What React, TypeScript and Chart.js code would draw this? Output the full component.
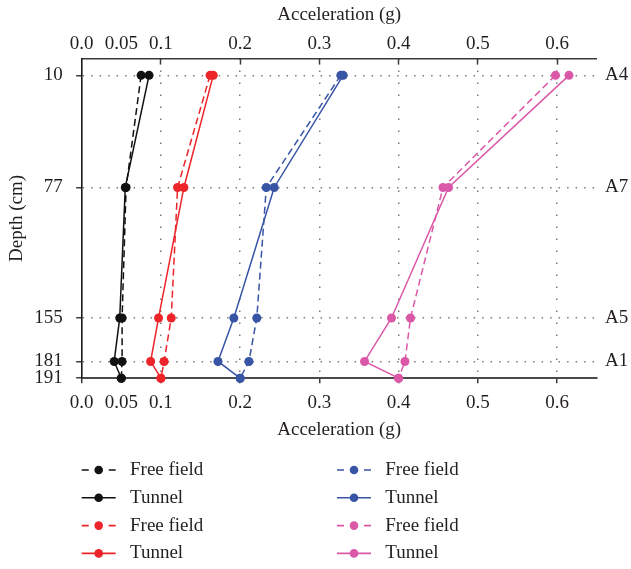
import React, { useEffect, useRef } from 'react';
import { Chart, registerables } from 'chart.js';

Chart.register(...registerables);

// ---- data ----
const DEPTHS = [10, 77, 155, 181, 191];
const DEPTH_TICKS = [10, 77, 155, 181, 191];
const SENSOR_DEPTHS = [10, 77, 155, 181];
const SENSOR_LABELS = ['A4', 'A7', 'A5', 'A1'];
const ACC_TICKS = [0, 0.05, 0.1, 0.2, 0.3, 0.4, 0.5, 0.6];
const ACC_TICK_LABELS = ['0.0', '0.05', '0.1', '0.2', '0.3', '0.4', '0.5', '0.6'];

const BLACK_FREE = [0.075, 0.056, 0.051, 0.051, 0.05];
const BLACK_TUNNEL = [0.085, 0.055, 0.048, 0.041, 0.05];
const RED_FREE = [0.162, 0.121, 0.113, 0.104, 0.1];
const RED_TUNNEL = [0.166, 0.129, 0.097, 0.087, 0.1];
const BLUE_FREE = [0.327, 0.233, 0.221, 0.211, 0.2];
const BLUE_TUNNEL = [0.33, 0.243, 0.192, 0.172, 0.2];
const PINK_FREE = [0.598, 0.456, 0.415, 0.408, 0.4];
const PINK_TUNNEL = [0.615, 0.463, 0.391, 0.357, 0.4];

const BLACK = '#111111';
const RED = 'rgb(237,36,42)';
const BLUE = 'rgb(55,84,165)';
const PINK = 'rgb(219,88,168)';

const SERIES = [
  { label: 'Free field', values: BLACK_FREE, color: BLACK, dashed: true },
  { label: 'Tunnel', values: BLACK_TUNNEL, color: BLACK, dashed: false },
  { label: 'Free field', values: RED_FREE, color: RED, dashed: true },
  { label: 'Tunnel', values: RED_TUNNEL, color: RED, dashed: false },
  { label: 'Free field', values: BLUE_FREE, color: BLUE, dashed: true },
  { label: 'Tunnel', values: BLUE_TUNNEL, color: BLUE, dashed: false },
  { label: 'Free field', values: PINK_FREE, color: PINK, dashed: true },
  { label: 'Tunnel', values: PINK_TUNNEL, color: PINK, dashed: false },
];

const FONT_FAMILY = '"Liberation Serif", "Times New Roman", serif';
const FONT_SIZE = 19;
const TEXT_COLOR = '#231f20';
const AXIS_COLOR = '#3a3a3a';
const GRID_COLOR = '#7a7a7a';
const DASH = [7, 4];

const legendPlugin = {
  id: 'customLegend',
  afterDraw(chart: any) {
    const ctx = chart.ctx;
    const colX = [81.7, 337];
    const rowY0 = 470;
    const rowGap = 27.8;
    const lineLen = 34;
    ctx.save();
    chart.data.datasets.forEach((ds: any, i: number) => {
      const col = Math.floor(i / 4);
      const row = i % 4;
      const x0 = colX[col];
      const y = rowY0 + row * rowGap;
      ctx.strokeStyle = ds.borderColor;
      ctx.lineWidth = 1.6;
      ctx.setLineDash(ds.borderDash && ds.borderDash.length ? [7, 20] : []);
      ctx.beginPath();
      ctx.moveTo(x0, y);
      ctx.lineTo(x0 + lineLen, y);
      ctx.stroke();
      ctx.setLineDash([]);
      ctx.fillStyle = ds.borderColor;
      ctx.beginPath();
      ctx.arc(x0 + lineLen / 2, y, 4.3, 0, Math.PI * 2);
      ctx.fill();
      ctx.fillStyle = TEXT_COLOR;
      ctx.font = `${FONT_SIZE}px ${FONT_FAMILY}`;
      ctx.textBaseline = 'middle';
      ctx.textAlign = 'left';
      ctx.fillText(ds.label, x0 + 48.3, y);
    });
    ctx.restore();
  },
};

const font = { family: FONT_FAMILY, size: FONT_SIZE };

const accLabel = (v: any) => {
  const i = ACC_TICKS.indexOf(Number(v));
  return i >= 0 ? ACC_TICK_LABELS[i] : '';
};

export default function App() {
  const canvasRef = useRef<HTMLCanvasElement | null>(null);

  useEffect(() => {
    if (!canvasRef.current) return;
    const datasets = SERIES.map((s) => ({
      label: s.label,
      data: DEPTHS.map((d, i) => ({ x: s.values[i], y: d })),
      borderColor: s.color,
      backgroundColor: s.color,
      pointBackgroundColor: s.color,
      pointBorderColor: s.color,
      pointBorderWidth: 0,
      pointRadius: 4.5,
      borderWidth: 1.5,
      borderDash: s.dashed ? DASH : [],
      showLine: true,
      tension: 0,
      clip: false,
      xAxisID: 'x',
      yAxisID: 'y',
    }));

    const chart = new Chart(canvasRef.current, {
      type: 'scatter',
      data: { datasets },
      plugins: [legendPlugin],
      options: {
        animation: false,
        responsive: true,
        maintainAspectRatio: false,
        layout: { padding: { left: 0, right: 0, top: 0, bottom: 127.8 } },
        plugins: { legend: { display: false }, tooltip: { enabled: false } },
        scales: {
          x: {
            type: 'linear',
            position: 'bottom',
            min: 0,
            max: 0.65,
            afterBuildTicks: (s: any) => {
              s.ticks = ACC_TICKS.map((v) => ({ value: v }));
            },
            afterFit: (s: any) => {
              s.height = 63;
            },
            ticks: {
              callback: accLabel,
              font,
              color: TEXT_COLOR,
              padding: 8.6,
              maxRotation: 0,
              autoSkip: false,
            },
            grid: {
              color: (c: any) => {
                const v = c.tick ? c.tick.value : null;
                return v === 0 || v === 0.05 ? 'rgba(0,0,0,0)' : GRID_COLOR;
              },
              lineWidth: 1.5,
              drawTicks: true,
              tickLength: 5,
              tickColor: (c: any) => {
                const v = c.tick ? c.tick.value : null;
                return v === 0.05 ? 'rgba(0,0,0,0)' : AXIS_COLOR;
              },
              tickWidth: 1.5,
              tickBorderDash: [],
            },
            border: { display: true, color: '#4a4a4a', width: 2, dash: [1.5, 10.5] },
            title: {
              display: true,
              text: 'Acceleration (g)',
              font,
              color: TEXT_COLOR,
              padding: { top: 0, bottom: 0 },
            },
          },
          x2: {
            type: 'linear',
            position: 'top',
            min: 0,
            max: 0.65,
            afterBuildTicks: (s: any) => {
              s.ticks = ACC_TICKS.map((v) => ({ value: v }));
            },
            afterFit: (s: any) => {
              s.height = 58.6;
            },
            ticks: {
              callback: accLabel,
              font,
              color: TEXT_COLOR,
              padding: 8.9,
              maxRotation: 0,
              autoSkip: false,
            },
            grid: {
              drawOnChartArea: false,
              drawTicks: true,
              tickLength: -6,
              tickColor: (c: any) => {
                const v = c.tick ? c.tick.value : null;
                return v === 0 || v === 0.05 ? 'rgba(0,0,0,0)' : AXIS_COLOR;
              },
              tickWidth: 1.5,
              tickBorderDash: [],
            },
            border: { display: true, color: AXIS_COLOR, width: 1.6 },
            title: {
              display: true,
              text: 'Acceleration (g)',
              font,
              color: TEXT_COLOR,
              padding: { top: 3.6, bottom: 0 },
            },
          },
          y: {
            type: 'linear',
            position: 'left',
            min: 0,
            max: 191,
            reverse: true,
            afterBuildTicks: (s: any) => {
              s.ticks = DEPTH_TICKS.map((v) => ({ value: v }));
            },
            afterFit: (s: any) => {
              s.width = 81.7;
            },
            ticks: {
              font,
              color: TEXT_COLOR,
              padding: 13.5,
              autoSkip: false,
              callback: (v: any) => String(v),
            },
            grid: {
              color: (c: any) => {
                const v = c.tick ? c.tick.value : null;
                return v === 191 ? 'rgba(0,0,0,0)' : GRID_COLOR;
              },
              lineWidth: 1.5,
              drawTicks: true,
              tickLength: 5.5,
              tickColor: AXIS_COLOR,
              tickWidth: 1.5,
              tickBorderDash: [],
            },
            border: { display: true, color: '#1a1a1a', width: 1.6, dash: [1.5, 7] },
            title: {
              display: true,
              text: 'Depth (cm)',
              font,
              color: TEXT_COLOR,
              padding: { top: 5.3, bottom: 0 },
            },
          },
          y2: {
            type: 'linear',
            position: 'right',
            min: 0,
            max: 191,
            reverse: true,
            afterBuildTicks: (s: any) => {
              s.ticks = SENSOR_DEPTHS.map((v) => ({ value: v }));
            },
            afterFit: (s: any) => {
              s.width = 34.3;
            },
            ticks: {
              font,
              color: TEXT_COLOR,
              padding: 8.3,
              autoSkip: false,
              callback: (v: any) => {
                const i = SENSOR_DEPTHS.indexOf(Number(v));
                return i >= 0 ? SENSOR_LABELS[i] : '';
              },
            },
            grid: { display: false, drawOnChartArea: false, drawTicks: false },
            border: { display: false },
          },
        },
      },
    } as any);

    return () => {
      chart.destroy();
    };
  }, []);

  return (
    <div style={{ position: 'absolute', left: 0, top: 0, width: 631, height: 569, background: '#fff' }}>
      <canvas ref={canvasRef} />
    </div>
  );
}
